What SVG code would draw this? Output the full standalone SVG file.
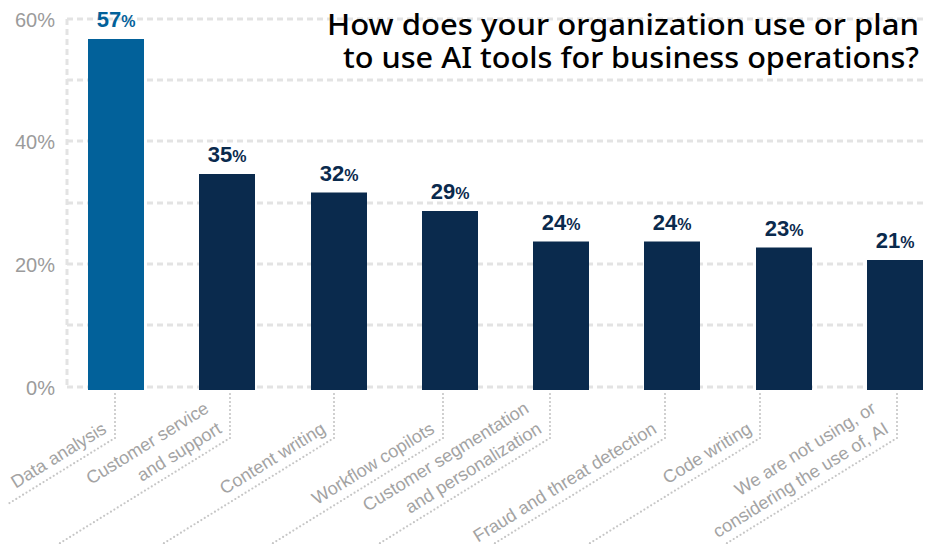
<svg xmlns="http://www.w3.org/2000/svg" width="925" height="544" viewBox="0 0 925 544">
<style>
.grid{stroke:#e3e3e3;stroke-width:3;stroke-dasharray:6 4;fill:none}
.tick{font-family:"Liberation Sans",Arial,sans-serif;font-size:20px;fill:#9b9b9b;text-anchor:end}
.bar{fill:#0a2a4d}
.bar1{fill:#02619a}
.val{font-family:"Liberation Sans",Arial,sans-serif;font-weight:bold;font-size:22px;fill:#0a2a4d;text-anchor:middle}
.val1{fill:#02619a}
.pct{font-size:16px;font-weight:bold}
.lead{stroke:#c6c6c6;stroke-width:2.2;stroke-linecap:round;stroke-dasharray:0 4;fill:none}
.cat{font-family:"Liberation Sans",Arial,sans-serif;font-size:18px;fill:#a3a3a3;text-anchor:end}
.title{font-family:"Noto Sans","Liberation Sans",Arial,sans-serif;font-size:29px;font-weight:500;fill:#000;text-anchor:end}
</style>
<rect width="925" height="544" fill="#fff"/>
<g id="grid">
<line class="grid" x1="67" y1="19" x2="925" y2="19"/>
<line class="grid" x1="67" y1="80" x2="925" y2="80"/>
<line class="grid" x1="67" y1="141" x2="925" y2="141"/>
<line class="grid" x1="67" y1="203" x2="925" y2="203"/>
<line class="grid" x1="67" y1="264" x2="925" y2="264"/>
<line class="grid" x1="67" y1="325" x2="925" y2="325"/>
<line class="grid" x1="67" y1="387" x2="925" y2="387"/>
<line class="grid" x1="67" y1="19" x2="67" y2="387"/>
</g>
<g id="axis-labels">
<text class="tick" x="55" y="27">60%</text>
<text class="tick" x="55" y="149">40%</text>
<text class="tick" x="55" y="272">20%</text>
<text class="tick" x="55" y="395">0%</text>
</g>
<g id="title">
<text class="title" x="919" y="35" textLength="592" lengthAdjust="spacingAndGlyphs">How does your organization use or plan</text>
<text class="title" x="919" y="68" textLength="576" lengthAdjust="spacingAndGlyphs">to use AI tools for business operations?</text>
</g>
<g id="bar-data-analysis">
<rect class="bar1" x="88" y="39" width="56" height="351"/>
<text class="val val1" x="116" y="27">57<tspan class="pct">%</tspan></text>
</g>
<g id="bar-customer-service">
<rect class="bar" x="199" y="174" width="56" height="216"/>
<text class="val" x="227" y="162">35<tspan class="pct">%</tspan></text>
</g>
<g id="bar-content-writing">
<rect class="bar" x="311" y="192.5" width="56" height="197.5"/>
<text class="val" x="339" y="180.5">32<tspan class="pct">%</tspan></text>
</g>
<g id="bar-workflow-copilots">
<rect class="bar" x="422" y="211" width="56" height="179"/>
<text class="val" x="450" y="199">29<tspan class="pct">%</tspan></text>
</g>
<g id="bar-customer-segmentation">
<rect class="bar" x="533" y="241.5" width="56" height="148.5"/>
<text class="val" x="561" y="229.5">24<tspan class="pct">%</tspan></text>
</g>
<g id="bar-fraud">
<rect class="bar" x="644" y="241.5" width="56" height="148.5"/>
<text class="val" x="672" y="229.5">24<tspan class="pct">%</tspan></text>
</g>
<g id="bar-code-writing">
<rect class="bar" x="756" y="247.5" width="56" height="142.5"/>
<text class="val" x="784" y="235.5">23<tspan class="pct">%</tspan></text>
</g>
<g id="bar-not-using">
<rect class="bar" x="867" y="260" width="56" height="130"/>
<text class="val" x="895" y="248">21<tspan class="pct">%</tspan></text>
</g>
<g id="connectors">
<polyline class="lead" points="115,394 115,438 8,504"/>
<polyline class="lead" points="230,394 230,438 57,545"/>
<polyline class="lead" points="334,394 334,438 161,545"/>
<polyline class="lead" points="443,394 443,438 270,545"/>
<polyline class="lead" points="550,394 550,438 377,545"/>
<polyline class="lead" points="665,394 665,438 492,545"/>
<polyline class="lead" points="760,394 760,438 587,545"/>
<polyline class="lead" points="897,394 897,438 724,545"/>
</g>
<g id="category-labels">
<g transform="translate(115,438) rotate(-31.7)"><text class="cat" x="-3" y="-9">Data analysis</text></g>
<g transform="translate(230,438) rotate(-31.7)"><text class="cat" x="-3" y="-33">Customer service</text><text class="cat" x="-3" y="-9">and support</text></g>
<g transform="translate(334,438) rotate(-31.7)"><text class="cat" x="-3" y="-9">Content writing</text></g>
<g transform="translate(443,438) rotate(-31.7)"><text class="cat" x="-3" y="-9">Workflow copilots</text></g>
<g transform="translate(550,438) rotate(-31.7)"><text class="cat" x="-3" y="-33">Customer segmentation</text><text class="cat" x="-3" y="-9">and personalization</text></g>
<g transform="translate(665,438) rotate(-31.7)"><text class="cat" x="-3" y="-9">Fraud and threat detection</text></g>
<g transform="translate(760,438) rotate(-31.7)"><text class="cat" x="-3" y="-9">Code writing</text></g>
<g transform="translate(897,438) rotate(-31.7)"><text class="cat" x="-3" y="-33">We are not using, or</text><text class="cat" x="-3" y="-9">considering the use of, AI</text></g>
</g>
</svg>
